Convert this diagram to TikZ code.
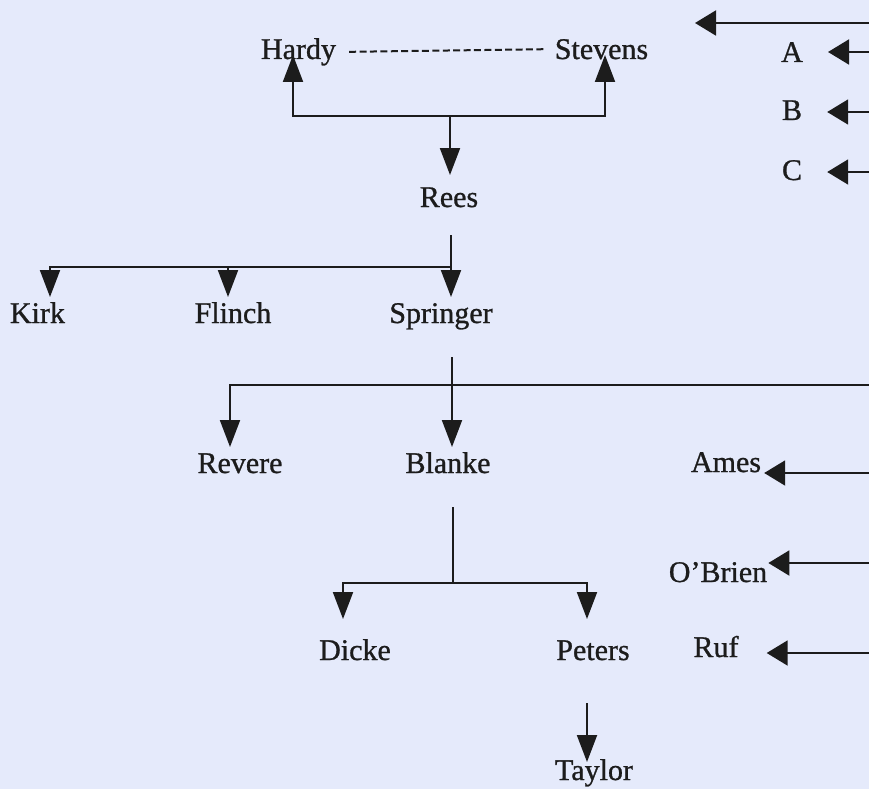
\documentclass[tikz,border=0pt]{standalone}
\usepackage{fontspec}
\setmainfont{Liberation Serif}[FakeBold=0.9]
\usetikzlibrary{arrows.meta,calc}
\definecolor{paper}{HTML}{E5EAFB}
\definecolor{ink}{HTML}{1C1C1C}
\begin{document}
\begin{tikzpicture}[x=1pt,y=-1pt,
  person/.style={anchor=base,inner sep=0pt,text=ink,font=\fontsize{30}{36}\selectfont},
  link/.style={draw=ink,line width=2pt},
  varrow/.style={link,-{Triangle[length=27pt,width=20pt]}},
  harrow/.style={link,-{Triangle[length=21pt,width=25pt]}},
  dashlink/.style={draw=ink,line width=2pt,dash pattern=on 7pt off 3.4pt}]
\useasboundingbox[fill=paper] (0,0) rectangle (869,789);

% people
\node[person] (Hardy)    at (298.5,59) {Hardy};
\node[person] (Stevens)  at (601.5,59) {Stevens};
\node[person] (Rees)     at (449,207)  {Rees};
\node[person] (Kirk)     at (37.5,323) {Kirk};
\node[person] (Flinch)   at (233,323)  {Flinch};
\node[person] (Springer) at (441,323)  {Springer};
\node[person] (Revere)   at (240,473)  {Revere};
\node[person] (Blanke)   at (448,473)  {Blanke};
\node[person] (Ames)     at (726,472)  {Ames};
\node[person] (obrien)   at (718,582)  {O’Brien};
\node[person] (Dicke)    at (355,660)  {Dicke};
\node[person] (Peters)   at (593,660)  {Peters};
\node[person] (Ruf)      at (716,657)  {Ruf};
\node[person] (Taylor)   at (594,780)  {Taylor};
\node[person] (A)        at (792,62)   {A};
\node[person] (B)        at (792,120)  {B};
\node[person] (C)        at (792,180)  {C};

% arrow tips next to the names
\coordinate (tHardy)    at ($(Hardy.base)+(-5.5,-4)$);
\coordinate (tStevens)  at ($(Stevens.base)+(3.5,-4)$);
\coordinate (tRees)     at ($(Rees.base)+(1,-32)$);
\coordinate (tKirk)     at ($(Kirk.base)+(12.5,-26)$);
\coordinate (tFlinch)   at ($(Flinch.base)+(-5,-26)$);
\coordinate (tSpringer) at ($(Springer.base)+(10,-26)$);
\coordinate (tRevere)   at ($(Revere.base)+(-10,-26)$);
\coordinate (tBlanke)   at ($(Blanke.base)+(4,-26)$);
\coordinate (tDicke)    at ($(Dicke.base)+(-12,-41)$);
\coordinate (tPeters)   at ($(Peters.base)+(-6,-41)$);
\coordinate (tTaylor)   at ($(Taylor.base)+(-7,-18)$);
\coordinate (tA)        at ($(A.east)+(25,0)$);
\coordinate (tB)        at ($(B.east)+(25,0)$);
\coordinate (tC)        at ($(C.east)+(25,0)$);
\coordinate (tAmes)     at ($(Ames.base east)+(3,0)$);
\coordinate (tobrien)   at ($(obrien.base east)+(1,0)$);
\coordinate (tRuf)      at ($(Ruf.base east)+(28,0)$);

% stems below the names and branching bars
\coordinate (sRees)     at ($(Rees.base)+(2,28)$);
\coordinate (sSpringer) at ($(Springer.base)+(11,34)$);
\coordinate (sBlanke)   at ($(Blanke.base)+(5,34)$);
\coordinate (sPeters)   at ($(Peters.base)+(-6,43)$);
\coordinate (j1) at (450,116);
\coordinate (j2) at (451,267);
\coordinate (j3) at (452,385);
\coordinate (j4) at (453,583);

% lines entering from the right edge
\coordinate (eTop)  at (869,23);
\coordinate (eTopL) at (695,23);
\coordinate (eA)    at (869,52);
\coordinate (eB)    at (869,112);
\coordinate (eC)    at (869,172);
\coordinate (eBar)  at (869,385);
\coordinate (eAmes) at (869,473);
\coordinate (eOB)   at (869,563);
\coordinate (eRuf)  at (869,653);

% Hardy and Stevens
\draw[dashlink] ([xshift=13pt]Hardy.east) -- ([xshift=-11pt]Stevens.west);
\draw[varrow] (j1) -| (tHardy);
\draw[varrow] (j1) -| (tStevens);
\draw[varrow] (j1) -- (j1 |- tRees);

% Rees
\draw[link] (sRees) -- (sRees |- j2);
\draw[varrow] (sRees |- j2) -- (sRees |- tSpringer);
\draw[varrow] (sRees |- j2) -| (tKirk);
\draw[varrow] (sRees |- j2) -| (tFlinch);

% Springer
\draw[varrow] (sSpringer) -- (sSpringer |- tBlanke);
\draw[link] (sSpringer |- j3) -- (eBar);
\draw[varrow] (sSpringer |- j3) -| (tRevere);

% Blanke
\draw[link] (sBlanke) -- (sBlanke |- j4);
\draw[varrow] (sBlanke |- j4) -| (tDicke);
\draw[varrow] (sBlanke |- j4) -| (tPeters);

% Peters
\draw[varrow] (sPeters) -- (sPeters |- tTaylor);

% arrows from the right
\draw[harrow] (eTop) -- (eTopL);
\draw[harrow] (eA) -- (eA -| tA);
\draw[harrow] (eB) -- (eB -| tB);
\draw[harrow] (eC) -- (eC -| tC);
\draw[harrow] (eAmes) -- (eAmes -| tAmes);
\draw[harrow] (eOB) -- (eOB -| tobrien);
\draw[harrow] (eRuf) -- (eRuf -| tRuf);
\end{tikzpicture}
\end{document}
